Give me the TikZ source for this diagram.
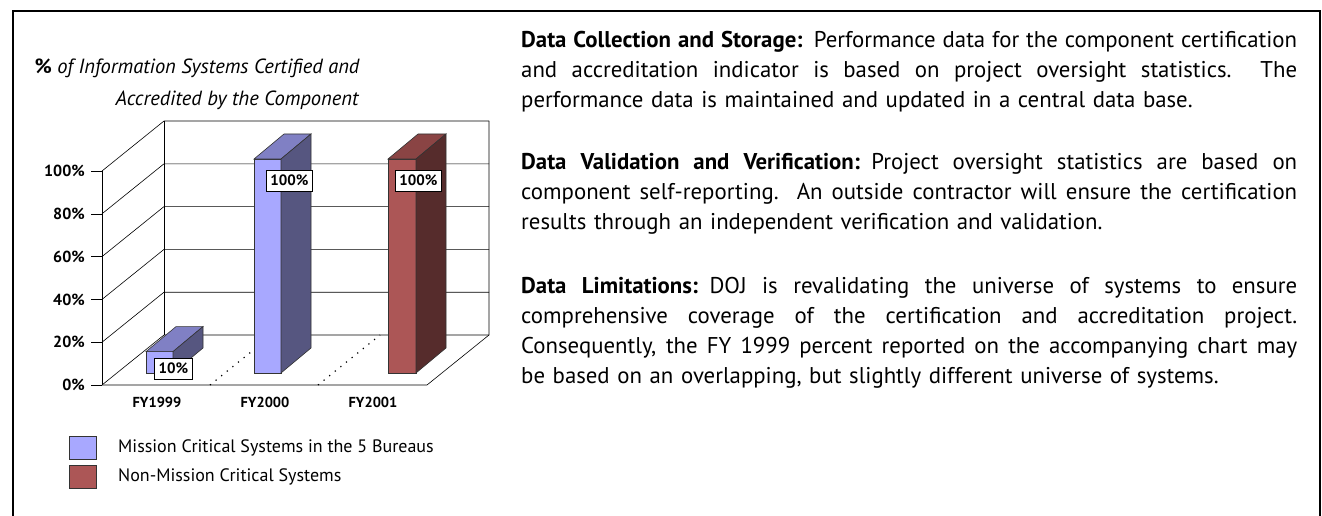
\documentclass[tikz,border=0pt]{standalone}
\usepackage{fontspec}
\setmainfont{PT Sans}
\usepackage{xcolor}
\usepackage{tikz}
\usetikzlibrary{positioning,calc}
\definecolor{misfront}{HTML}{A8A8FF}
\definecolor{mistop}{HTML}{8080C4}
\definecolor{misside}{HTML}{565680}
\definecolor{nonfront}{HTML}{AC5656}
\definecolor{nontop}{HTML}{8A4444}
\definecolor{nonside}{HTML}{562C2C}
\definecolor{edge}{HTML}{333333}
\tikzset{
  frame/.style={line width=2pt, draw=black},
  grid/.style={line width=0.6pt, draw=black},
  sep/.style={line width=1.2pt, draw=black, dash pattern=on 1.2pt off 6pt},
  barface/.style={draw=edge, line width=0.6pt},
  axislbl/.style={font=\fontsize{16}{16}\selectfont\bfseries, anchor=east, inner sep=0pt},
  catlbl/.style={font=\fontsize{14.5}{14.5}\selectfont\bfseries, inner sep=0pt},
  vallbl/.style={draw=black, fill=white, line width=0.6pt, inner xsep=4pt, inner ysep=0pt,
                 minimum height=21pt, font=\fontsize{15}{15}\selectfont\bfseries},
  ttl/.style={font=\fontsize{20.5}{20.5}\selectfont\itshape, inner sep=0pt},
  keybox/.style={draw=edge, line width=0.8pt, minimum width=27pt, minimum height=23pt, inner sep=0pt},
  keylbl/.style={font=\fontsize{18}{18}\selectfont, anchor=west, inner sep=0pt},
  para/.style={text width=776pt, align=left, inner sep=0pt, anchor=base west,
               font=\fontsize{22.8}{30}\selectfont},
}
\newcommand{\fullline}[1]{\makebox[776pt][s]{\spaceskip=\fontdimen2\font plus 1fil\relax #1}}

\begin{document}
\begin{tikzpicture}[x=1pt,y=-1pt]
\useasboundingbox (0,0) rectangle (1322,516);
\fill[white] (0,0) rectangle (1322,516);
% outer frame, open at the bottom
\draw[frame] (13,530) -- (13,11) -- (1320,11) -- (1320,530);

% chart title
\node[ttl] (t1) at (197,68) {{\upshape\bfseries\%} of Information Systems Certified and};
\node[ttl] (t2) at (237,100) {Accredited by the Component};

% walls and floor
\foreach \k in {0,...,5} {
  \draw[grid] (102,{385-42.8*\k}) -- (164,{335-42.8*\k}) -- (489,{335-42.8*\k});
  \draw[grid] (91,{385-42.8*\k}) -- (102,{385-42.8*\k});
}
\draw[grid] (102,385) -- (102,171.0);
\draw[grid] (164,335) -- (164,121);
\draw[grid] (489,121) -- (489,335) -- (427,385) -- (102,385);
\draw[sep] (210,385) -- (272,335);
\draw[sep] (318,385) -- (380,335);

% axis labels
\foreach \v [count=\k from 0] in {0,20,40,60,80,100}
  \node[axislbl] (y\v) at (85,{385-42.8*\k}) {\v\%};
\node[catlbl] (c1) at (157,402) {FY1999};
\node[catlbl] (c2) at (265,402) {FY2000};
\node[catlbl] (c3) at (373,402) {FY2001};

% bars
\foreach \bx/\bw/\bh/\fc/\tc/\sc in {146/27/21.4/misfront/mistop/misside,
                                     254/27/214/misfront/mistop/misside,
                                     388/28/214/nonfront/nontop/nonside} {
  \filldraw[barface, fill=\fc] (\bx,373) rectangle ({\bx+\bw},{373-\bh});
  \filldraw[barface, fill=\tc] (\bx,{373-\bh}) -- ++(30,-25) -- ++(\bw,0) -- ++(-30,25) -- cycle;
  \filldraw[barface, fill=\sc] ({\bx+\bw},373) -- ++(30,-25) -- ++(0,-\bh) -- ++(-30,25) -- cycle;
}

% value labels
\node[vallbl] (v1) at (173.5,368.5) {10\%};
\node[vallbl] (v2) at (289.5,180.5) {100\%};
\node[vallbl] (v3) at (418.5,180.5) {100\%};

% legend
\node[keybox, fill=misfront] (k1) at (82.5,447.5) {};
\node[keybox, fill=nonfront] (k2) at (82.5,476.5) {};
\node[keylbl] (l1) at (118,448) {Mission Critical Systems in the 5 Bureaus};
\node[keylbl] (l2) at (118,477) {Non-Mission Critical Systems};

% notes
\node[para] (p1) at (521,48) {%
  \fullline{\textbf{Data Collection and Storage:} Performance data for the component certification}\\
  \fullline{and accreditation indicator is based on project oversight statistics.\ \ The}\\
  performance data is maintained and updated in a central data base.};
\node[para] (p2) at (521,169) {%
  \fullline{\textbf{Data Validation and Verification:} Project oversight statistics are based on}\\
  \fullline{component self-reporting.\ \ An outside contractor will ensure the certification}\\
  results through an independent verification and validation.};
\node[para] (p3) at (521,293) {%
  \fullline{\textbf{Data Limitations:} DOJ is revalidating the universe of systems to ensure}\\
  \fullline{comprehensive coverage of the certification and accreditation project.}\\
  \fullline{Consequently, the FY 1999 percent reported on the accompanying chart may}\\
  be based on an overlapping, but slightly different universe of systems.};
\end{tikzpicture}
\end{document}
